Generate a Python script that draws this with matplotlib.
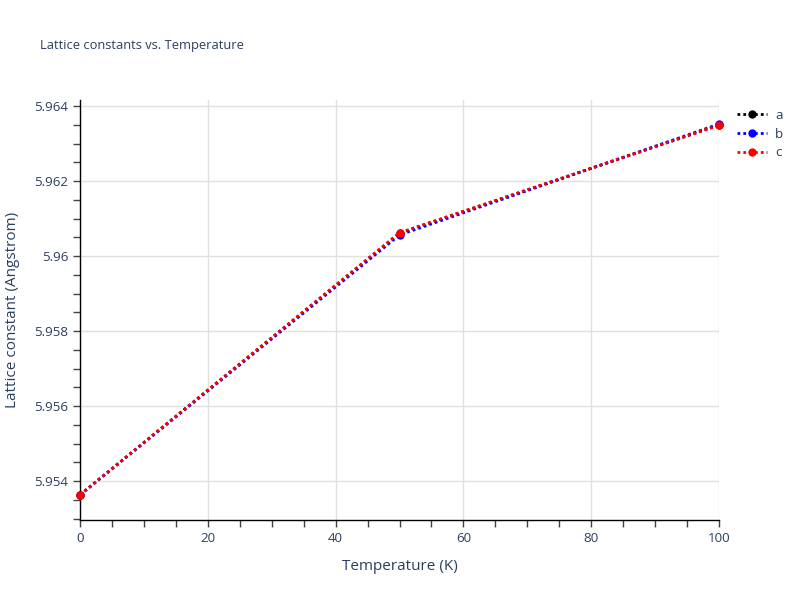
import matplotlib
matplotlib.use("Agg")
import matplotlib.pyplot as plt
from matplotlib.ticker import MultipleLocator, FuncFormatter

temps = [0, 50, 100]
a_vals = [5.95363, 5.96061, 5.96349]
b_vals = [5.95363, 5.96056, 5.96352]
c_vals = [5.95363, 5.96062, 5.96349]
series = [("a", a_vals, "black"), ("b", b_vals, "blue"), ("c", c_vals, "red")]

txt = "#2a3f5f"
plt.rcParams['font.family'] = ['Open Sans', 'DejaVu Sans']

fig = plt.figure(figsize=(8, 6), dpi=100)
ax = fig.add_axes([0.1, 0.1333, 0.79875, 0.7])

for name, vals, col in series:
    ax.plot(temps, vals, linestyle=(0, (1, 1.1)), linewidth=2, color=col,
            marker='o', markersize=6, markeredgewidth=0, label=name,
            clip_on=False, zorder=3)

ax.set_xlim(0, 100)
ax.set_ylim(5.95296, 5.96416)
ax.xaxis.set_major_locator(MultipleLocator(20))
ax.xaxis.set_minor_locator(MultipleLocator(5))
ax.yaxis.set_major_locator(MultipleLocator(0.002))
ax.yaxis.set_minor_locator(MultipleLocator(0.0005))
ax.yaxis.set_major_formatter(FuncFormatter(lambda v, p: ('%.3f' % v).rstrip('0').rstrip('.')))

ax.grid(True, which='major', color='#e0e0e0', linewidth=1)
ax.set_axisbelow(True)
for s in ['top', 'right']:
    ax.spines[s].set_visible(False)
for s in ['left', 'bottom']:
    ax.spines[s].set_color('black')
    ax.spines[s].set_linewidth(1)

ax.tick_params(axis='both', which='major', length=5, width=1, color='#444444',
               labelcolor=txt, labelsize=9.6)
ax.tick_params(axis='both', which='minor', length=5, width=1, color='#444444')

ax.set_xlabel("Temperature (K)", fontsize=11, color=txt, labelpad=10)
ax.set_ylabel("Lattice constant (Angstrom)", fontsize=11, color=txt, labelpad=10)
fig.text(0.05, 0.925, "Lattice constants vs. Temperature", fontsize=9.3, color=txt,
         ha='left', va='center')

leg = fig.legend(*ax.get_legend_handles_labels(), loc='upper left',
                 bbox_to_anchor=(737 / 800, 1 - 109 / 600), frameon=False,
                 fontsize=9.6, labelcolor=txt, handlelength=2.25, handletextpad=0.6,
                 borderaxespad=0, borderpad=0, labelspacing=0.42)

fig.savefig("out.png", dpi=100)
